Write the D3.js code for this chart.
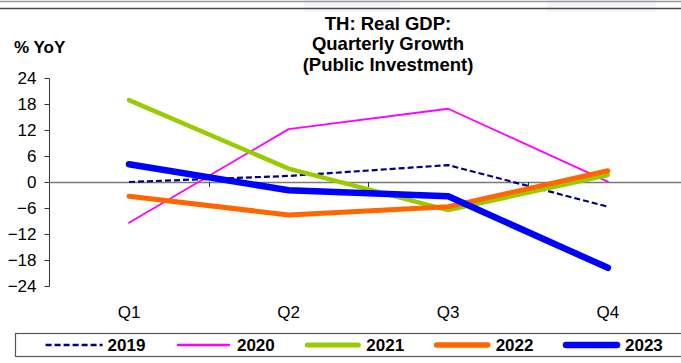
<!DOCTYPE html>
<html><head><meta charset="utf-8">
<script src="https://cdn.jsdelivr.net/npm/d3@7"></script>
<style>body{margin:0;background:#fff}svg{display:block}text{font-family:"Liberation Sans",Arial,sans-serif}</style>
</head><body>
<script>
const categories = ["Q1","Q2","Q3","Q4"];
const years = ["2019","2020","2021","2022","2023"];
const s2019 = [0.0, 1.4, 3.9, -5.7];
const s2020 = [-9.4, 12.2, 16.9, 0.1];
const s2021 = [18.9, 3.1, -6.5, 1.6];
const s2022 = [-3.3, -7.6, -5.7, 2.6];
const s2023 = [4.1, -1.9, -3.3, -19.8];
const yTicks = [24, 18, 12, 6, 0, -6, -12, -18, -24];
const titleLines = ["TH: Real GDP:", "Quarterly Growth", "(Public Investment)"];

const seriesData = [s2019, s2020, s2021, s2022, s2023];
const colors = ["#000080", "#ff00ff", "#99cc00", "#ff6600", "#0000ff"];
const widths = [2.2, 1.8, 4.5, 5, 6.5];
const dashes = ["6,3", null, null, null, null];

const W = 681, H = 363;
const svg = d3.select("body").append("svg").attr("width", W).attr("height", H);

// header decoration
svg.append("rect").attr("x",304).attr("y",0).attr("width",96).attr("height",12).attr("fill","#f4f6fa");
svg.append("rect").attr("x",547).attr("y",0).attr("width",109).attr("height",12).attr("fill","#f4f6fa");
svg.append("line").attr("x1",0).attr("x2",W).attr("y1",1.5).attr("y2",1.5).attr("stroke","#9a9a9a").attr("stroke-width",1.5);
svg.append("line").attr("x1",0).attr("x2",W).attr("y1",8.5).attr("y2",8.5).attr("stroke","#4a4a4a").attr("stroke-width",1.5);

const x = d3.scaleBand().domain(categories).range([49.2, 687.6]).paddingInner(0).paddingOuter(0);
const y = d3.scaleLinear().domain([-24, 24]).range([286, 78]);

// title
svg.append("text").attr("x", 388).attr("y", 29.5).attr("text-anchor","middle")
  .style("font-weight","bold").style("font-size","18.5px")
  .selectAll("tspan").data(titleLines).join("tspan")
  .attr("x", 388).attr("dy", (d,i)=> i===0?0:20.7).text(d=>d);

svg.append("text").attr("x", 14).attr("y", 53).style("font-weight","bold").style("font-size","17px").text("% YoY");

// y axis
const yAxis = d3.axisLeft(y).tickValues(yTicks).tickSize(5).tickPadding(8).tickFormat(d3.format("d"));
const ga = svg.append("g").attr("transform","translate(49.5,0)").call(yAxis);
ga.select(".domain").attr("stroke","#333").attr("d","M-0,78.5V286.5");
ga.selectAll(".tick line").attr("stroke","#333");
ga.selectAll(".tick text").style("font-size","17px").attr("fill","#000").style("font-family","'Liberation Sans',Arial,sans-serif");

// zero line with category boundary ticks
svg.append("line").attr("x1",49.2).attr("x2",W).attr("y1",y(0)+0.5).attr("y2",y(0)+0.5).attr("stroke","#7a7a7a").attr("stroke-width",1.5);
const bounds = categories.slice(1).map(c => x(c));
svg.selectAll(".btick").data(bounds).join("line").attr("x1",d=>Math.round(d)+0.5).attr("x2",d=>Math.round(d)+0.5)
  .attr("y1",y(0)).attr("y2",y(0)+5).attr("stroke","#333");

// category labels
svg.selectAll(".cat").data(categories).join("text").attr("x",d=>x(d)+x.bandwidth()/2).attr("y",318)
  .attr("text-anchor","middle").style("font-size","17px").text(d=>d);

// lines
const line = d3.line().x((d,i)=>x(categories[i])+x.bandwidth()/2).y(d=>y(d));
seriesData.forEach((s,k)=>{
  svg.append("path").attr("d", line(s)).attr("fill","none").attr("stroke",colors[k])
    .attr("stroke-width",widths[k]).attr("stroke-linejoin","round").attr("stroke-linecap", dashes[k]?"butt":"round")
    .attr("stroke-dasharray", dashes[k]);
});

// legend
svg.append("rect").attr("x",15.5).attr("y",333.5).attr("width",700).attr("height",23).attr("fill","#fff").attr("stroke","#555").attr("stroke-width",1.2);
const lx = d3.scalePoint().domain(years).range([45.6, 563]);
years.forEach((yr,k)=>{
  const x0 = lx(yr);
  svg.append("line").attr("x1",x0+(dashes[k]?0:3)).attr("x2",x0+57-(dashes[k]?0:3)).attr("y1",345).attr("y2",345)
    .attr("stroke",colors[k]).attr("stroke-width",Math.min(widths[k]+0.5,6.5)).attr("stroke-dasharray",dashes[k])
    .attr("stroke-linecap", dashes[k]?"butt":"round");
  svg.append("text").attr("x",x0+62).attr("y",351).style("font-weight","bold").style("font-size","17px").text(yr);
});
</script>
</body></html>
